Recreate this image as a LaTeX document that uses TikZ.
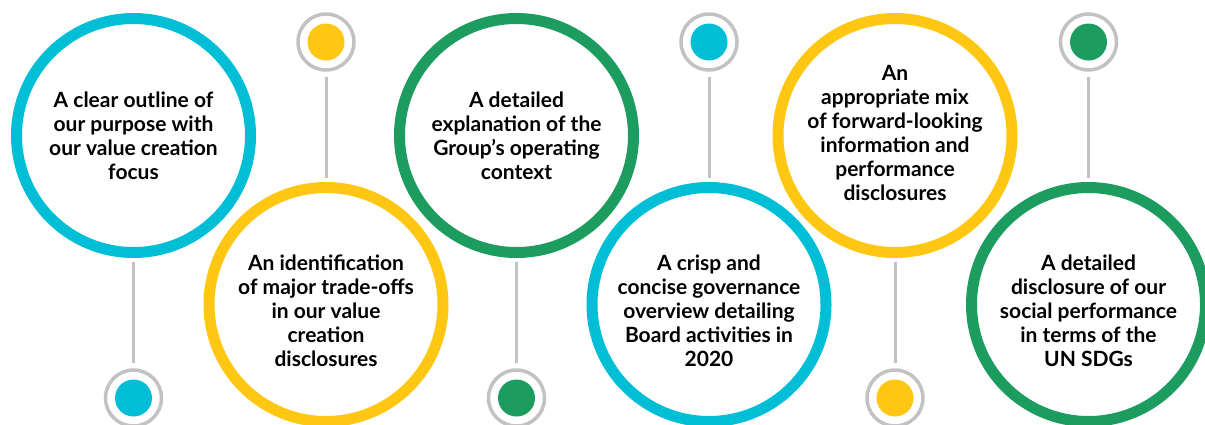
\documentclass[tikz,border=0pt]{standalone}
\usepackage{fontspec}
\setmainfont{Lato}
\definecolor{ccyan}{HTML}{00BED6}
\definecolor{cyellow}{HTML}{FFC712}
\definecolor{cgreen}{HTML}{1C9C5F}
\definecolor{cgray}{HTML}{C2C2C2}
\tikzset{
	bigring/.style = {circle, draw=#1, line width=11pt, minimum size=234pt, inner sep=0pt, fill=white},
	ringtext/.style = {align=center, inner sep=0pt, font=\fontsize{21}{24}\selectfont\bfseries},
	dotring/.style = {circle, draw=cgray, line width=3.5pt, minimum size=56pt, inner sep=0pt, fill=white,
		path picture={\fill[#1] (path picture bounding box.center) circle (18.5pt);}},
	stem/.style = {draw=cgray, line width=3pt, shorten <=4pt, shorten >=5pt}
}
\begin{document}
\begin{tikzpicture}[x=1pt,y=-1pt]
	\useasboundingbox (0,0) rectangle (1205,424);
	\foreach \x/\y/\dt/\dy/\col/\txt [count=\i] in {
		133.5/135.5/0/398/ccyan/{A clear outline of\\our purpose with\\our value creation\\focus},
		326/304.5/6/42/cyellow/{An identification\\of major trade-offs\\in our value\\creation\\disclosures},
		516.5/135.5/0/398/cgreen/{A detailed\\explanation of the\\Group’s operating\\context},
		709/304.5/6/42/ccyan/{A crisp and\\concise governance\\overview detailing\\Board activities in\\2020},
		895/135.5/-3/398/cyellow/{An\\appropriate mix\\of forward-looking\\information and\\performance\\disclosures},
		1088.5/304.5/6/42/cgreen/{A detailed\\disclosure of our\\social performance\\in terms of the\\UN SDGs}}
	{
		\node[bigring=\col] (c\i) at (\x,\y) {};
		\node[ringtext] (t\i) at (\x,\y+\dt) {\txt};
		\node[dotring=\col] (d\i) at (\x,\dy) {};
		\draw[stem] (c\i) -- (d\i);
	}
\end{tikzpicture}
\end{document}
